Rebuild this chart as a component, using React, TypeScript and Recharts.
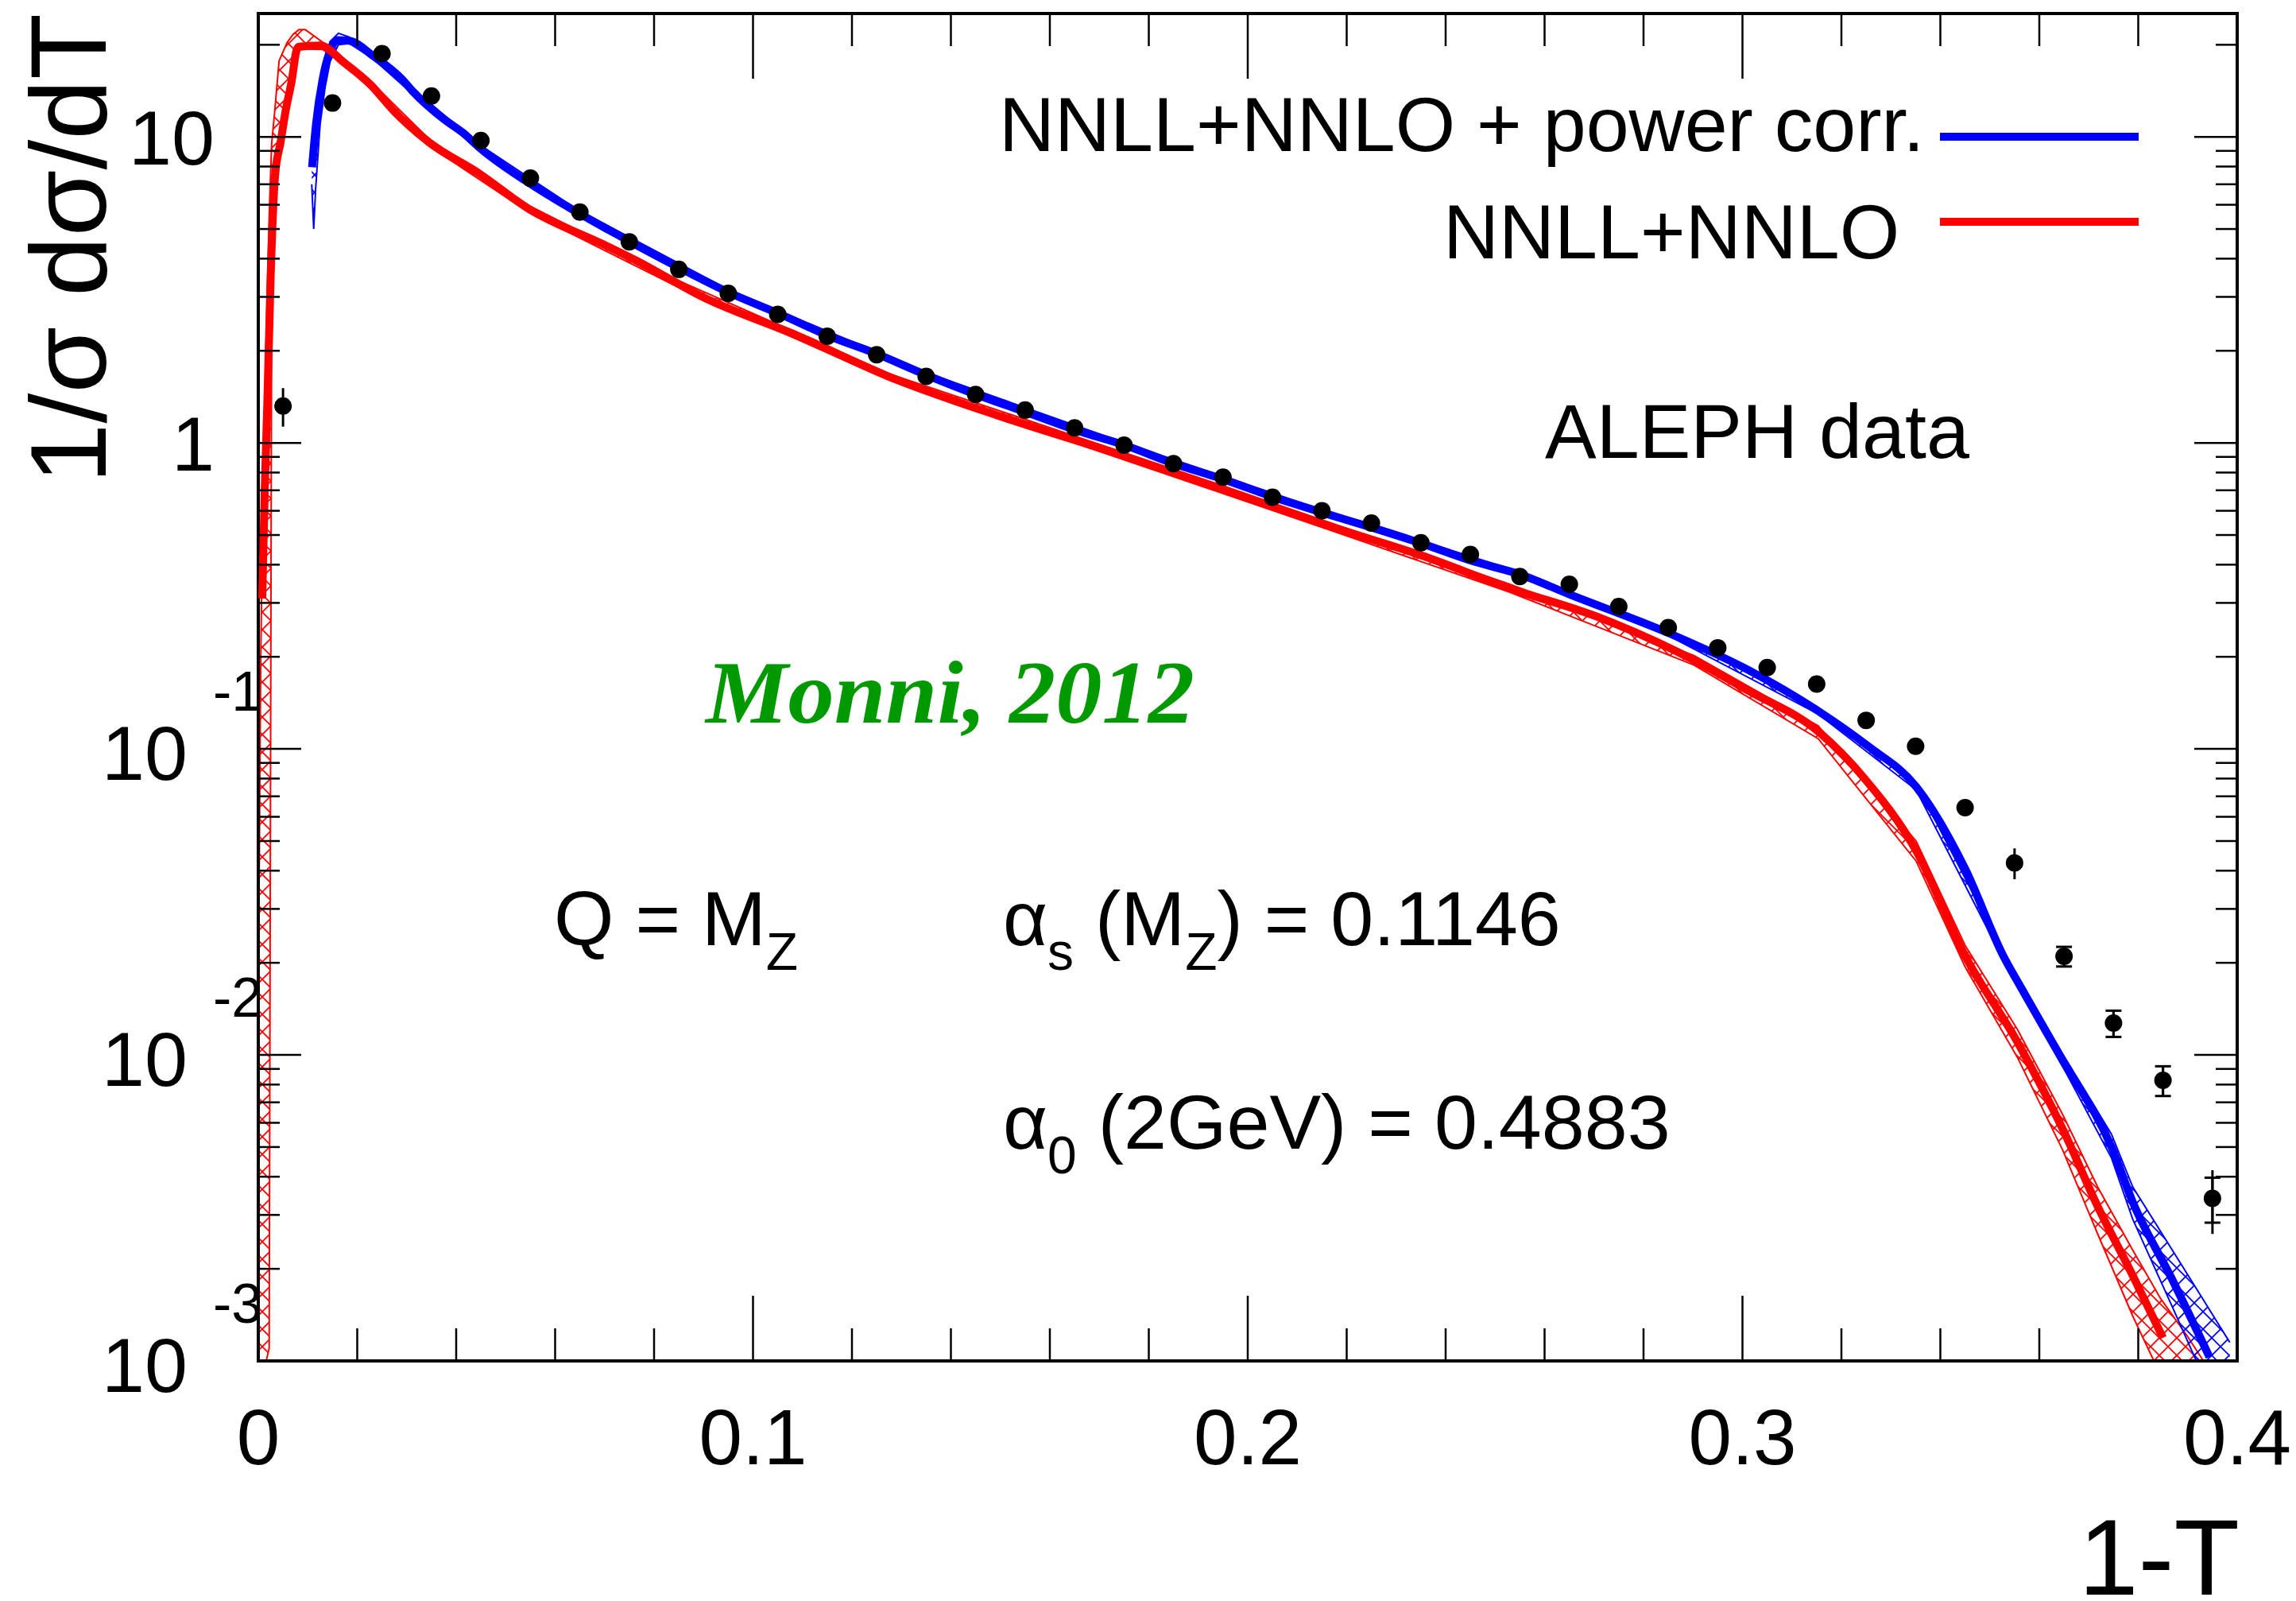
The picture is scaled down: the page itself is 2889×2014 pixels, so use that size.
import {
  ComposedChart,
  XAxis,
  YAxis,
  Line,
  Area,
  Scatter,
  ErrorBar,
  ReferenceArea,
  Legend
} from 'recharts';

const WIDTH = 2889;
const HEIGHT = 2014;
// plotting frame in page pixels
const PLOT = { left: 325, right: 2815, top: 17, bottom: 1712 };
const SANS = '"Liberation Sans", Arial, Helvetica, sans-serif';
const SERIF = '"Liberation Serif", "Times New Roman", serif';

const RED = '#ff0000';
const BLUE = '#0000ff';
const GREEN = '#009a00';

// axes
const X_DOMAIN = [0, 0.4];
const Y_DOMAIN = [0.001, 25.3];
const X_TICKS = [
  0, 0.02, 0.04, 0.06, 0.08, 0.1, 0.12, 0.14, 0.16, 0.18, 0.2,
  0.22, 0.24, 0.26, 0.28, 0.3, 0.32, 0.34, 0.36, 0.38, 0.4
];
const X_MAJOR = [0, 0.1, 0.2, 0.3, 0.4];
const X_MAJOR_LABELS = ['0', '0.1', '0.2', '0.3', '0.4'];
const Y_MAJOR = [0.001, 0.01, 0.1, 1, 10];
const Y_MAJOR_BASE = ['10', '10', '10', '1', '10'];
const Y_MAJOR_EXP = ['-3', '-2', '-1', '', ''];
const Y_MINOR_STEPS = [2, 3, 4, 5, 6, 7, 8, 9];
const Y_TICKS = Y_MAJOR.flatMap((d) => [d, ...Y_MINOR_STEPS.map((s) => +(s * d).toPrecision(3))]).filter(
  (v) => v <= Y_DOMAIN[1]
);

// ALEPH thrust distribution
const DATA_X = [
  0.005, 0.015, 0.025, 0.035, 0.045, 0.055, 0.065, 0.075, 0.085, 0.095,
  0.105, 0.115, 0.125, 0.135, 0.145, 0.155, 0.165, 0.175, 0.185, 0.195,
  0.205, 0.215, 0.225, 0.235, 0.245, 0.255, 0.265, 0.275, 0.285, 0.295,
  0.305, 0.315, 0.325, 0.335, 0.345, 0.355, 0.365, 0.375, 0.385, 0.395
];
const DATA_Y = [
  1.32, 12.9, 18.7, 13.6, 9.73, 7.33, 5.68, 4.54, 3.69, 3.08,
  2.63, 2.23, 1.94, 1.65, 1.44, 1.28, 1.12, 0.983, 0.855, 0.773,
  0.664, 0.6, 0.547, 0.472, 0.432, 0.366, 0.345, 0.292, 0.249, 0.214,
  0.1845, 0.163, 0.124, 0.102, 0.0643, 0.0424, 0.021, 0.0127, 0.00826, 0.0034
];
const DATA_STAT = [
  0.19, 0.25, 0.3, 0.2, 0.12, 0.08, 0.06, 0.045, 0.035, 0.03,
  0.025, 0.02, 0.018, 0.016, 0.014, 0.012, 0.011, 0.01, 0.009, 0.008,
  0.007, 0.0065, 0.006, 0.0055, 0.005, 0.0045, 0.0045, 0.004, 0.004, 0.0035,
  0.0035, 0.0035, 0.003, 0.003, 0.0025, 0.0049, 0.00155, 0.00125, 0.00092, 0.0008
];
const DATA_SYST = [
  0.03, 0.12, 0.15, 0.12, 0.08, 0.06, 0.045, 0.035, 0.028, 0.022,
  0.018, 0.016, 0.014, 0.012, 0.01, 0.009, 0.008, 0.007, 0.006, 0.005,
  0.0045, 0.004, 0.0035, 0.003, 0.0028, 0.0025, 0.0025, 0.002, 0.002, 0.0018,
  0.0016, 0.0015, 0.0012, 0.001, 0.0008, 0.001, 0.00155, 0.00125, 0.00092, 0.00057
];

// NNLL+NNLO
const RED_X = [
  0.0008, 0.0013, 0.0018, 0.0025, 0.0034, 0.0045, 0.0055, 0.0068, 0.0077, 0.0082,
  0.0125, 0.0173, 0.0227, 0.0275, 0.0345, 0.0446, 0.0548, 0.0698, 0.0763, 0.0898,
  0.109, 0.1281, 0.1507, 0.172, 0.1946, 0.2172, 0.2349, 0.253, 0.2718, 0.2902,
  0.3012, 0.3153, 0.3245, 0.3351, 0.345, 0.3556, 0.3647, 0.3718, 0.3789, 0.385
];
const RED_Y = [
  0.31, 0.7, 1.3, 3.5, 7.5, 9.6, 12.1, 15.4, 19.1, 19.7,
  19.9, 17.5, 14.8, 12.1, 9.6, 7.6, 5.8, 4.45, 3.95, 3.0,
  2.24, 1.63, 1.21, 0.94, 0.71, 0.53, 0.43, 0.335, 0.266, 0.195,
  0.155, 0.114, 0.0806, 0.0465, 0.0211, 0.011, 0.00574, 0.0032, 0.0019, 0.00119
];
const RED_BAND_X = [
  0, 0.0005, 0.001, 0.0016, 0.0022, 0.0027, 0.0033, 0.0042, 0.0058, 0.007,
  0.0082, 0.0095, 0.013, 0.016, 0.0227, 0.0345, 0.0548, 0.0837, 0.1281, 0.172,
  0.2172, 0.253, 0.2902, 0.3153, 0.3351, 0.345, 0.3556, 0.3647, 0.3718, 0.3789,
  0.3845, 0.39, 0.395
];
const RED_BAND_LO = [
  0.001, 0.001, 0.001, 0.001, 0.0011, 2.6, 6.0, 8.8, 12.3, 15.2,
  19.2, 19.4, 19.3, 17.9, 14.4, 9.35, 5.65, 3.3, 1.59, 0.915,
  0.515, 0.325, 0.188, 0.108, 0.043, 0.0194, 0.0098, 0.0049, 0.0026, 0.0014,
  0.0009, 0.0008, 0.0008
];
const RED_BAND_HI = [
  0.015, 0.2, 0.8, 2.2, 5.5, 9.5, 12.0, 17.7, 20.3, 21.6,
  22.4, 22.4, 20.4, 18.8, 15.2, 9.85, 5.95, 3.46, 1.67, 0.965,
  0.545, 0.345, 0.202, 0.119, 0.05, 0.0228, 0.0121, 0.0064, 0.0037, 0.0023,
  0.0016, 0.0012, 0.0009
];

// NNLL+NNLO + power corrections
const BLUE_X = [
  0.01087, 0.01167, 0.013, 0.01435, 0.016, 0.0184, 0.0232, 0.0291, 0.0312, 0.0376,
  0.0414, 0.0446, 0.0564, 0.0644, 0.0762, 0.0853, 0.0955, 0.1056, 0.1152, 0.1248,
  0.1349, 0.145, 0.1552, 0.1653, 0.1755, 0.1851, 0.1952, 0.2053, 0.2155, 0.2251,
  0.2352, 0.2454, 0.2552, 0.265, 0.2851, 0.3012, 0.3153, 0.3252, 0.3351, 0.345,
  0.3527, 0.3563, 0.3647, 0.3746, 0.3789, 0.3869, 0.3944
];
const BLUE_Y = [
  7.96, 11.0, 15.4, 18.8, 20.7, 20.6, 18.4, 15.4, 14.1, 11.4,
  10.3, 9.25, 6.79, 5.68, 4.45, 3.72, 3.08, 2.63, 2.24, 1.96,
  1.67, 1.44, 1.26, 1.1, 0.978, 0.855, 0.759, 0.664, 0.589, 0.529,
  0.469, 0.411, 0.371, 0.32, 0.239, 0.181, 0.133, 0.1026, 0.0753, 0.0406,
  0.0211, 0.0166, 0.0096, 0.005, 0.0033, 0.00184, 0.00103
];
const BLUE_BAND_X = [
  0.0108, 0.0112, 0.0116, 0.0125, 0.0135, 0.0145, 0.0162, 0.0184, 0.0232, 0.0312,
  0.0446, 0.0644, 0.0955, 0.1349, 0.1755, 0.2155, 0.2552, 0.2851, 0.3153, 0.3351,
  0.3527, 0.3647, 0.3746, 0.3789, 0.3869, 0.393, 0.3985
];
const BLUE_BAND_LO = [
  7.0, 5.0, 6.8, 11.0, 14.5, 17.6, 20.0, 20.2, 18.0, 13.8,
  9.05, 5.56, 3.02, 1.64, 0.96, 0.578, 0.364, 0.234, 0.13, 0.0735,
  0.0205, 0.0092, 0.0046, 0.0029, 0.0015, 0.0009, 0.0008
];
const BLUE_BAND_HI = [
  8.6, 10.0, 11.8, 14.8, 18.0, 20.5, 21.8, 21.2, 18.8, 14.4,
  9.45, 5.8, 3.14, 1.7, 0.995, 0.6, 0.378, 0.244, 0.136, 0.0772,
  0.0217, 0.0101, 0.0055, 0.0037, 0.0023, 0.0016, 0.00115
];

const LEGEND_ROWS = [
  { name: 'NNLL+NNLO + power corr.', color: BLUE, textX: 1257, textY: 190, lineY: 172 },
  { name: 'NNLL+NNLO', color: RED, textX: 1816, textY: 325, lineY: 279 }
];

const points = DATA_X.map((x, i) => ({ x, y: DATA_Y[i], stat: DATA_STAT[i], syst: DATA_SYST[i] }));
const redLine = RED_X.map((x, i) => ({ x, y: RED_Y[i] }));
const blueLine = BLUE_X.map((x, i) => ({ x, y: BLUE_Y[i] }));
const redBand = RED_BAND_X.map((x, i) => ({ x, range: [RED_BAND_LO[i], RED_BAND_HI[i]] }));
const blueBand = BLUE_BAND_X.map((x, i) => ({ x, range: [BLUE_BAND_LO[i], BLUE_BAND_HI[i]] }));

function XTick(props: any) {
  const { x, payload } = props;
  const idx = X_MAJOR.findIndex((m) => Math.abs(m - payload.value) < 1e-9);
  const len = idx >= 0 ? 82 : 41;
  return (
    <g>
      <line x1={x} x2={x} y1={PLOT.bottom} y2={PLOT.bottom - len} stroke="#000" strokeWidth={2.5} />
      <line x1={x} x2={x} y1={PLOT.top} y2={PLOT.top + len} stroke="#000" strokeWidth={2.5} />
      {idx >= 0 && (
        <text x={x} y={1842} textAnchor="middle" fontFamily={SANS} fontSize={98} fill="#000">
          {X_MAJOR_LABELS[idx]}
        </text>
      )}
    </g>
  );
}

function YTick(props: any) {
  const { y, payload } = props;
  const idx = Y_MAJOR.findIndex((m) => Math.abs(m - payload.value) < m * 1e-6);
  const len = idx >= 0 ? 54 : 27;
  const exp = idx >= 0 ? Y_MAJOR_EXP[idx] : '';
  return (
    <g>
      <line x1={PLOT.left} x2={PLOT.left + len} y1={y} y2={y} stroke="#000" strokeWidth={2.5} />
      <line x1={PLOT.right} x2={PLOT.right - len} y1={y} y2={y} stroke="#000" strokeWidth={2.5} />
      {idx >= 0 && !exp && (
        <text x={270} y={y + 35} textAnchor="end" fontFamily={SANS} fontSize={97} fill="#000">
          {Y_MAJOR_BASE[idx]}
        </text>
      )}
      {idx >= 0 && exp && (
        <g fontFamily={SANS} fill="#000">
          <text x={236} y={y + 39} textAnchor="end" fontSize={97}>
            {Y_MAJOR_BASE[idx]}
          </text>
          <text x={268} y={y - 48} textAnchor="start" fontSize={70}>
            {exp}
          </text>
        </g>
      )}
    </g>
  );
}

function LegendContent(props: any) {
  const payload: any[] = props.payload || [];
  return (
    <svg width={WIDTH} height={400} style={{ display: 'block' }}>
      {LEGEND_ROWS.map((row) => {
        const entry = payload.find((p) => p.value === row.name);
        const color = entry?.color || row.color;
        return (
          <g key={row.name}>
            <text x={row.textX} y={row.textY} fontFamily={SANS} fontSize={97} fill="#000">
              {row.name}
            </text>
            <line x1={2441} x2={2691} y1={row.lineY} y2={row.lineY} stroke={color} strokeWidth={10} />
          </g>
        );
      })}
    </svg>
  );
}

function DataPoint(props: any) {
  return <circle cx={props.cx} cy={props.cy} r={11} fill="#000" />;
}

export default function App() {
  return (
    <div style={{ position: 'absolute', left: 0, top: 0, width: WIDTH, height: HEIGHT, background: '#fff' }}>
      <ComposedChart
        width={WIDTH}
        height={HEIGHT}
        margin={{ top: PLOT.top, right: WIDTH - PLOT.right, bottom: 0, left: 0 }}
      >
        <defs>
          <pattern id="hatchRed" patternUnits="userSpaceOnUse" width={22} height={22}>
            <path d="M0,0 L22,22 M22,0 L0,22" stroke={RED} strokeWidth={1.8} />
          </pattern>
          <pattern id="hatchBlue" patternUnits="userSpaceOnUse" width={22} height={22}>
            <path d="M0,0 L22,22 M22,0 L0,22" stroke={BLUE} strokeWidth={1.8} />
          </pattern>
        </defs>
        <XAxis
          type="number"
          dataKey="x"
          domain={X_DOMAIN}
          ticks={X_TICKS}
          interval={0}
          height={HEIGHT - PLOT.bottom}
          tick={XTick}
          tickLine={false}
          axisLine={false}
          allowDataOverflow
        />
        <YAxis
          type="number"
          scale="log"
          domain={Y_DOMAIN}
          ticks={Y_TICKS}
          interval={0}
          width={PLOT.left}
          tick={YTick}
          tickLine={false}
          axisLine={false}
          allowDataOverflow
        />
        <Area
          data={redBand}
          dataKey="range"
          type="linear"
          stroke={RED}
          strokeWidth={2}
          fill="url(#hatchRed)"
          fillOpacity={1}
          dot={false}
          activeDot={false}
          legendType="none"
          isAnimationActive={false}
        />
        <Area
          data={blueBand}
          dataKey="range"
          type="linear"
          stroke={BLUE}
          strokeWidth={2}
          fill="url(#hatchBlue)"
          fillOpacity={1}
          dot={false}
          activeDot={false}
          legendType="none"
          isAnimationActive={false}
        />
        <Line
          data={blueLine}
          dataKey="y"
          name="NNLL+NNLO + power corr."
          type="monotoneX"
          stroke={BLUE}
          strokeWidth={10}
          dot={false}
          activeDot={false}
          isAnimationActive={false}
        />
        <Line
          data={redLine}
          dataKey="y"
          name="NNLL+NNLO"
          type="monotoneX"
          stroke={RED}
          strokeWidth={10}
          dot={false}
          activeDot={false}
          isAnimationActive={false}
        />
        <Scatter data={points} dataKey="y" shape={DataPoint} legendType="none" isAnimationActive={false}>
          <ErrorBar dataKey="stat" direction="y" width={0} stroke="#000" strokeWidth={3} />
          <ErrorBar dataKey="syst" direction="y" width={10} stroke="#000" strokeWidth={3} />
        </Scatter>
        <ReferenceArea
          x1={X_DOMAIN[0]}
          x2={X_DOMAIN[1]}
          y1={Y_DOMAIN[0]}
          y2={Y_DOMAIN[1]}
          fill="none"
          stroke="#000"
          strokeWidth={4}
          ifOverflow="visible"
        />
        <Legend
          layout="horizontal"
          verticalAlign="middle"
          align="center"
          content={LegendContent}
          wrapperStyle={{ position: 'absolute', left: 0, top: 0, width: WIDTH, height: 400, margin: 0, padding: 0 }}
        />
      </ComposedChart>
      <svg
        width={WIDTH}
        height={HEIGHT}
        style={{ position: 'absolute', left: 0, top: 0, pointerEvents: 'none' }}
        fontFamily={SANS}
        fill="#000"
      >
        <text transform="translate(133,17) rotate(-90)" textAnchor="end" fontSize={136}>
          1/σ dσ/dT
        </text>
        <text x={2818} y={2006} textAnchor="end" fontSize={135}>
          1-T
        </text>
        <text x={1944} y={576} fontSize={97}>
          ALEPH data
        </text>
        <text
          x={888}
          y={909}
          fontFamily={SERIF}
          fontStyle="italic"
          fontWeight="bold"
          fontSize={112}
          fill={GREEN}
          textLength={615}
          lengthAdjust="spacingAndGlyphs"
        >
          Monni, 2012
        </text>
        <text x={697} y={1189} fontSize={97}>
          Q = M
          <tspan dy={31} fontSize={66}>
            Z
          </tspan>
        </text>
        <text x={1262} y={1189} fontSize={97}>
          α
          <tspan dy={31} fontSize={66}>
            s
          </tspan>
          <tspan dy={-31}> (M</tspan>
          <tspan dy={31} fontSize={66}>
            Z
          </tspan>
          <tspan dy={-31}>) = 0.1146</tspan>
        </text>
        <text x={1262} y={1445} fontSize={97}>
          α
          <tspan dy={31} fontSize={66}>
            0
          </tspan>
          <tspan dy={-31}> (2GeV) = 0.4883</tspan>
        </text>
      </svg>
    </div>
  );
}
